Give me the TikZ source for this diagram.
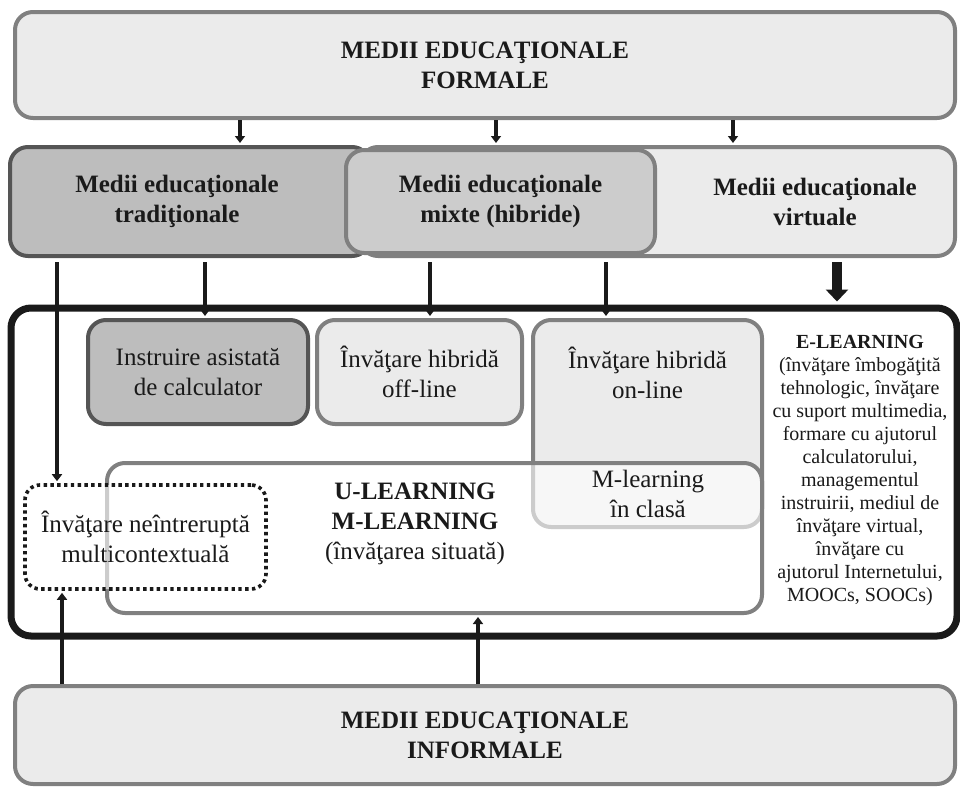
\documentclass[tikz,border=0pt]{standalone}
\usepackage{fontspec}
\setmainfont{Liberation Serif}
\usetikzlibrary{positioning, arrows.meta}
\definecolor{ink}{HTML}{1A1A1A}
\definecolor{paleg}{HTML}{EBEBEB}
\definecolor{mixfill}{HTML}{CCCCCC}
\definecolor{tradfill}{HTML}{BDBDBD}
\definecolor{edgegray}{HTML}{808080}
\definecolor{darkedge}{HTML}{555555}

\begin{document}
\begin{tikzpicture}[x=0.5pt,y=-0.5pt,
    wh/.style 2 args={minimum width=#1*0.5pt, minimum height=#2*0.5pt},
    txt/.style={align=center, text=ink, inner sep=0pt, font=\fontsize{12.5}{15}\selectfont},
    headtxt/.style={txt, font=\fontsize{12.5}{15}\selectfont\bfseries},
    box/.style={txt, rounded corners=9pt, line width=2pt, draw=edgegray, fill=paleg},
    arr/.style={draw=ink, line width=2pt, shorten >=1pt, -{Triangle[width=5pt,length=3.5pt]}},
    bigarr/.style={draw=ink, line width=5pt, shorten >=1.5pt, -{Triangle[width=11pt,length=6pt]}}]
    \useasboundingbox (0,0) rectangle (960,788);
    \node[box, headtxt, wh={940}{106}] (formal) at (485,65) {MEDII EDUCAŢIONALE\\FORMALE};
    \node[box, wh={595}{109}] (virt) at (657.5,201.5) {};
    \node[box, wh={360}{109}, fill=tradfill, draw=darkedge] (trad) at (190,201.5) {};
    \node[box, headtxt, wh={309}{103}, fill=mixfill] (mixt) at (500.5,201.5) {Medii educaţionale\\mixte (hibride)};
    \node[headtxt] (tradtxt) at (177,201.5) {Medii educaţionale\\tradiţionale};
    \node[headtxt] (virttxt) at (815,201.5) {Medii educaţionale\\virtuale};
    \node[draw=ink, line width=3.5pt, rounded corners=10pt, fill=white, wh={946}{328}] (learn) at (484,472) {};
    \node[box, wh={220}{104}, fill=tradfill, draw=darkedge] (cai) at (198,372) {Instruire asistată\\de calculator};
    \node[box, wh={205}{104}] (offline) at (419.5,372) {Învăţare hibridă\\off-line};
    \node[box, wh={229}{207}] (online) at (647.5,423.5) {};
    \node[txt] (onlinetxt) at (647.5,373) {Învăţare hibridă\\on-line};
    \node[box, wh={655}{150}, fill=white, fill opacity=0.6] (ulearn) at (434.5,538) {};
    \node[txt] (ulearntxt) at (415,524) {\textbf{U-LEARNING}\\\textbf{M-LEARNING}\\(învăţarea situată)};
    \node[txt] (mclass) at (648,494) {M-learning\\în clasă};
    \node[box, wh={241}{104}, rounded corners=7.5pt, draw=ink, line width=1.8pt, dash pattern=on 1.7pt off 1.7pt,
          fill=white, fill opacity=0.6, text opacity=1] (seamless) at (145.5,537) {Învăţare neîntreruptă\\multicontextuală};
    \node[txt, font=\fontsize{10}{11.5}\selectfont] (elearn) at (860,470.5) {\textbf{E-LEARNING}\\(învăţare îmbogăţită\\tehnologic, învăţare\\cu suport multimedia,\\formare cu ajutorul\\calculatorului,\\managementul\\instruirii, mediul de\\învăţare virtual,\\învăţare cu\\ajutorul Internetului,\\MOOCs, SOOCs)};
    \node[box, headtxt, wh={940}{98}] (informal) at (485,735) {MEDII EDUCAŢIONALE\\INFORMALE};
    \foreach \x in {240,496,733}
        \draw[arr] (formal.south -| \x,0) -- (virt.north -| \x,0);
    \foreach \x/\n in {205/cai,430/offline,606/online}
        \draw[arr, shorten <=2pt] (trad.south -| \x,0) -- (\n.north -| \x,0);
    \draw[arr, shorten <=2pt] (trad.south -| 57,0) -- (seamless.north -| 57,0);
    \draw[bigarr, shorten <=2pt] (virt.south -| 837,0) -- (learn.north -| 837,0);
    \draw[arr] (informal.north -| 62,0) -- (seamless.south -| 62,0);
    \draw[arr] (informal.north -| 478,0) -- (ulearn.south -| 478,0);
\end{tikzpicture}
\end{document}
